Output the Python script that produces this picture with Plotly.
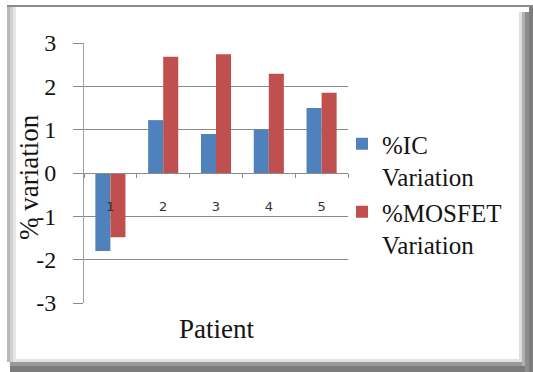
import plotly.graph_objects as go

# Patient-wise percentage variation for the two dosimeters
patients = ["1", "2", "3", "4", "5"]
ic_variation = [-1.80, 1.22, 0.90, 1.00, 1.50]
mosfet_variation = [-1.48, 2.68, 2.74, 2.29, 1.85]
y_ticks = [-3, -2, -1, 0, 1, 2, 3]

W, H = 533, 372
ML, MR, MT, MB = 84, 185, 43, 69
PW, PH = W - ML - MR, H - MT - MB

SERIF = "Liberation Serif"
GRID = "#8a8a8a"
TEXT = "#141414"


def px_x(px):
    return (px - ML) / PW


def px_y(py):
    return (H - MB - py) / PH


def box(x0, y0, x1, y1, color):
    return dict(type="rect", xref="paper", yref="paper",
                x0=px_x(x0), x1=px_x(x1), y0=px_y(y1), y1=px_y(y0),
                fillcolor=color, line=dict(width=0), layer="below")


fig = go.Figure()
fig.add_trace(go.Bar(x=patients, y=ic_variation, name="%IC<br>Variation",
                     marker=dict(color="#4F81BD", line=dict(width=0))))
fig.add_trace(go.Bar(x=patients, y=mosfet_variation, name="%MOSFET<br>Variation",
                     marker=dict(color="#C0504D", line=dict(width=0))))

# Framed chart border with bevelled shadow edges
shapes = [
    box(7, 5, 533, 7, "#8a8a8a"),
    box(7, 7, 10, 362, "#b8b8b8"),
    box(10, 7, 13, 362, "#cfcfcf"),
    box(13, 7, 16, 362, "#e6e6e6"),
    box(16, 359, 521, 362, "#e2e2e2"),
    box(10, 362, 533, 366, "#9a9a9a"),
    box(10, 366, 533, 372, "#7c7c7c"),
    box(519, 12, 522, 362, "#e0e0e0"),
    box(522, 12, 525, 366, "#b0b0b0"),
    box(525, 12, 529, 372, "#8e8e8e"),
    box(529, 7, 533, 372, "#7c7c7c"),
]

fig.update_layout(
    width=W, height=H,
    margin=dict(l=ML, r=MR, t=MT, b=MB, pad=0),
    paper_bgcolor="white", plot_bgcolor="white",
    barmode="group", bargap=0.43, bargroupgap=0,
    font=dict(family=SERIF, color=TEXT),
    showlegend=True,
    legend=dict(x=px_x(342), y=px_y(121), xanchor="left", yanchor="top",
                font=dict(family=SERIF, size=25, color=TEXT),
                valign="top", bgcolor="rgba(0,0,0,0)", traceorder="normal"),
    shapes=shapes,
    annotations=[
        dict(text="% variation", xref="paper", yref="paper",
             x=px_x(29), y=px_y(177), textangle=-90, showarrow=False,
             font=dict(family=SERIF, size=27, color=TEXT),
             xanchor="center", yanchor="middle"),
        dict(text="Patient", xref="paper", yref="paper",
             x=0.5, y=px_y(329), showarrow=False,
             font=dict(family=SERIF, size=27, color=TEXT),
             xanchor="center", yanchor="middle"),
    ],
)

fig.update_yaxes(
    range=[-3, 3], tickvals=y_ticks, ticktext=[str(v) for v in y_ticks],
    showgrid=True, gridcolor=GRID, gridwidth=1,
    zeroline=False, showline=True, linecolor="#a0a0a0", linewidth=1,
    ticks="outside", ticklen=10, tickcolor=GRID, ticklabelstandoff=12,
    tickfont=dict(family=SERIF, size=24, color=TEXT),
)

fig.update_xaxes(
    type="category", anchor="free", position=0.5,
    showgrid=False, showline=True, linecolor=GRID, linewidth=1,
    ticks="outside", ticklen=4, tickcolor=GRID, tickson="boundaries",
    ticklabelstandoff=21,
    tickfont=dict(family="DejaVu Sans", size=13, color="#333333"),
)

fig.write_html("out.html")
